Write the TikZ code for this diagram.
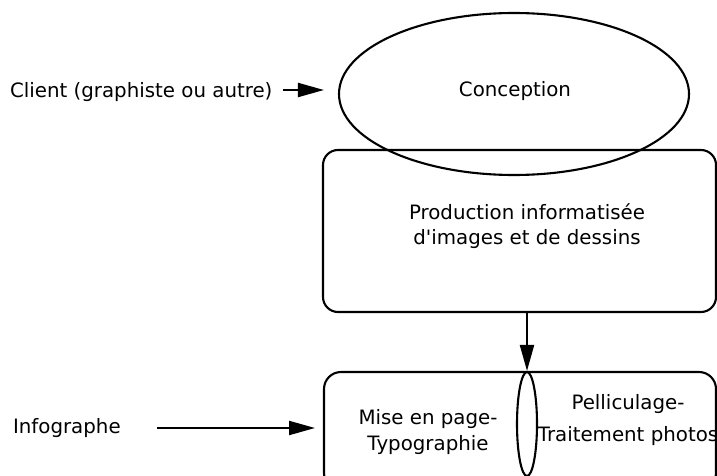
\documentclass[tikz,border=0pt]{standalone}
\usepackage{fontspec}
\newfontfamily\lblfont{DejaVu Sans}
\usetikzlibrary{arrows.meta,shapes.geometric}
\begin{document}
\begin{tikzpicture}[x=1pt,y=-1pt,
  line width=2.1pt,
  lbl/.style={inner sep=0pt, align=center, font=\lblfont\fontsize{19.8}{25}\selectfont},
  arr/.style={-{Triangle[length=26pt,width=14pt]}, line width=2.1pt},
  shell/.style={draw, line width=2.1pt, rounded corners=17pt}]
\useasboundingbox (0,0) rectangle (717,476);
\clip (0,0) rectangle (717,476);

% production stage
\node[draw, rounded corners=15pt, minimum width=393pt, minimum height=162pt, inner sep=0pt] (prod) at (519.5,231) {};
\node[lbl] (prodtxt) at (527,226.5) {Production informatisée\\d'images et de dessins};

% design stage
\node[draw, ellipse, minimum width=350pt, minimum height=162pt, inner sep=0pt] (concep) at (514,94) {};
\node[lbl] (conctxt) at (515,91) {Conception};

% final stage: two halves joined by a narrow ellipse
\coordinate (jtop) at (527,372);
\coordinate (lbw) at (324,428);
\draw[shell] (jtop) -- (324,372) -- (324,490) -- (527,490);
\draw[shell] (jtop) -- (716,372) -- (716,490) -- (527,490);
\node[draw, ellipse, fill=white, minimum width=20pt, minimum height=104pt, inner sep=0pt] (joint) at (527,424) {};
\node[lbl, font=\lblfont\fontsize{19.8}{26}\selectfont] (mise) at (428,432) {Mise en page-\\Typographie};
\node[lbl, font=\lblfont\fontsize{19.8}{32}\selectfont] (pell) at (628,420) {Pelliculage-\\Traitement photos};

% actors
\node[lbl, anchor=west] (client) at (9,92) {Client (graphiste ou autre)};
\node[lbl, anchor=west] (info) at (12,428) {Infographe};

% connectors
\coordinate (cstart) at (283,90);
\coordinate (istart) at (157,428);
\draw[arr, shorten >=14pt] (cstart) -- (concep.west |- cstart);
\draw[arr, shorten >=9pt] (istart) -- (lbw);
\draw[arr] (prod.south -| joint.north) -- (joint.north);
\end{tikzpicture}
\end{document}
